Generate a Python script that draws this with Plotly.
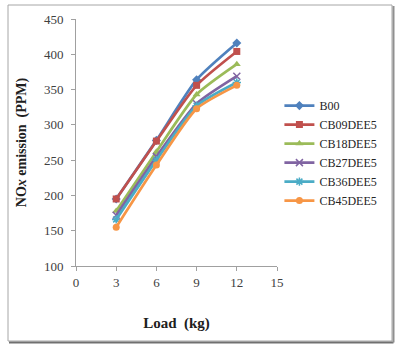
import plotly.graph_objects as go

loads = [3, 6, 9, 12]
series_names = ["B00", "CB09DEE5", "CB18DEE5", "CB27DEE5", "CB36DEE5", "CB45DEE5"]
b00 = [195, 278, 364, 416]
cb09 = [195, 277, 356, 404]
cb18 = [178, 262, 343, 386]
cb27 = [172, 255, 330, 369]
cb36 = [166, 250, 327, 360]
cb45 = [155, 243, 323, 356]
values = [b00, cb09, cb18, cb27, cb36, cb45]
colors = ["#4F81BD", "#C0504D", "#9BBB59", "#8064A2", "#4BACC6", "#F79646"]
symbols = ["diamond", "square", "triangle-up", "x-thin", "asterisk", "circle"]
x_ticks = [0, 3, 6, 9, 12, 15]
y_ticks = [100, 150, 200, 250, 300, 350, 400, 450]

fig = go.Figure()
for name, vals, col, sym in zip(series_names, values, colors, symbols):
    thin = sym in ("x-thin", "asterisk")
    fig.add_trace(go.Scatter(
        x=loads, y=vals, name=name, mode="lines+markers",
        line=dict(color=col, width=2.7, shape="spline", smoothing=0.6),
        marker=dict(symbol=sym, size=7 if not thin else 7, color=col,
                    line=dict(color=col, width=1.5 if thin else 0)),
    ))

serif = "Liberation Serif"
fig.update_layout(
    width=401, height=352,
    margin=dict(l=76, r=124, t=19, b=86),
    paper_bgcolor="white", plot_bgcolor="white",
    font=dict(family=serif, size=12, color="#404040"),
    showlegend=True,
    legend=dict(x=1.012, xanchor="left", y=0.708, yanchor="top",
                font=dict(family=serif, size=12, color="#262626"),
                bgcolor="rgba(0,0,0,0)", tracegroupgap=0),
    xaxis=dict(range=[0, 15], tickvals=x_ticks, showgrid=False, zeroline=False,
               showline=True, linecolor="#A0A0A0", linewidth=1,
               ticks="outside", ticklen=4, tickcolor="#A0A0A0",
               tickfont=dict(family=serif, size=13, color="#404040"),
               title=dict(text="<b>Load  (kg)</b>", standoff=28,
                          font=dict(family=serif, size=15, color="#202020"))),
    yaxis=dict(range=[100, 450], tickvals=y_ticks, showgrid=False, zeroline=False,
               showline=True, linecolor="#A0A0A0", linewidth=1,
               ticks="outside", ticklen=4, tickcolor="#A0A0A0",
               ticklabelstandoff=5,
               tickfont=dict(family=serif, size=13, color="#404040"),
               title=dict(text="<b>NO<i>x</i> emission  (PPM)</b>", standoff=14,
                          font=dict(family=serif, size=14, color="#202020"))),
)

# outer frame with slight shadow
pw, ph = 201.0, 247.0
def px(x):
    return (x - 76) / pw
def py(y):
    return (266 - y) / ph
fig.add_shape(type="rect", xref="paper", yref="paper",
              x0=px(8), x1=px(392), y0=py(341), y1=py(5),
              line=dict(color="#A6A6A6", width=1), layer="below")
fig.add_shape(type="line", xref="paper", yref="paper",
              x0=px(9), x1=px(393.5), y0=py(342.5), y1=py(342.5),
              line=dict(color="#707070", width=2))
fig.add_shape(type="line", xref="paper", yref="paper",
              x0=px(393.5), x1=px(393.5), y0=py(342.5), y1=py(6),
              line=dict(color="#909090", width=2))

fig.write_html("out.html")
